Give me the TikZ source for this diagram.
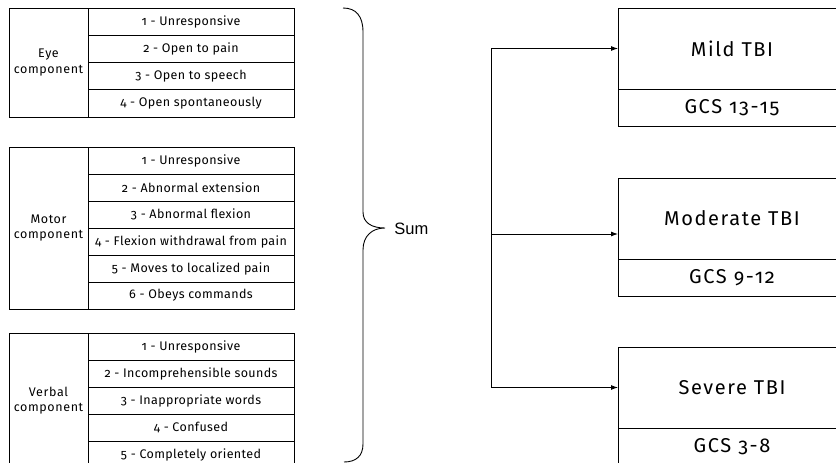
\documentclass[tikz,border=0pt]{standalone}
\usepackage{fontspec}
\setmainfont{Fira Sans}[Numbers=OldStyle]
\newfontfamily\sumfont{Liberation Sans}
\usetikzlibrary{arrows.meta}

% Text styles for the score tables and the severity boxes
\newcommand{\rowtext}{\fontsize{12.5}{14}\selectfont\addfontfeature{LetterSpace=3}}
\newcommand{\labeltext}{\fontsize{12.5}{15.5}\selectfont\addfontfeature{LetterSpace=5}}
\newcommand{\boxtext}{\fontsize{20}{24}\selectfont\addfontfeature{LetterSpace=8}}

\begin{document}
\begin{tikzpicture}[x=1pt, y=-1pt, line width=0.9pt,
  cell/.style={draw, anchor=north west, inner sep=0pt, outer sep=0pt,
    minimum width=206pt, font=\rowtext},
  eyecell/.style={cell, minimum height=27.25pt},
  rowcell/.style={cell, minimum height=27pt},
  labelcell/.style={draw, anchor=north west, inner sep=0pt, outer sep=0pt,
    minimum width=79pt, align=center, font=\labeltext},
  titlebox/.style={draw, anchor=north west, inner sep=0pt, outer sep=0pt,
    minimum width=228pt, minimum height=81pt, font=\boxtext},
  gcsbox/.style={draw, anchor=north west, inner sep=0pt, outer sep=0pt,
    minimum width=228pt, minimum height=37pt, font=\boxtext},
  flow/.style={-{Latex[length=7pt,width=5pt]}}]

\useasboundingbox (0,0) rectangle (836,463);
\clip (0,0) rectangle (836,463);

% Eye component
\node[labelcell, minimum height=109pt] (eye) at (9,8) {Eye\\component};
\node[eyecell] (e1) at (88,8)     {1 - Unresponsive};
\node[eyecell] (e2) at (88,35.25) {2 - Open to pain};
\node[eyecell] (e3) at (88,62.5)  {3 - Open to speech};
\node[eyecell] (e4) at (88,89.75) {4 - Open spontaneously};

% Motor component
\node[labelcell, minimum height=162pt] (motor) at (9,147) {Motor\\component};
\node[rowcell] (m1) at (88,147) {1 - Unresponsive};
\node[rowcell] (m2) at (88,174) {2 - Abnormal extension};
\node[rowcell] (m3) at (88,201) {3 - Abnormal flexion};
\node[rowcell] (m4) at (88,228) {4 - Flexion withdrawal from pain};
\node[rowcell] (m5) at (88,255) {5 - Moves to localized pain};
\node[rowcell] (m6) at (88,282) {6 - Obeys commands};

% Verbal component
\node[labelcell, minimum height=135pt] (verbal) at (9,333) {Verbal\\component};
\node[rowcell] (v1) at (88,333) {1 - Unresponsive};
\node[rowcell] (v2) at (88,360) {2 - Incomprehensible sounds};
\node[rowcell] (v3) at (88,387) {3 - Inappropriate words};
\node[rowcell] (v4) at (88,414) {4 - Confused};
\node[rowcell] (v5) at (88,441) {5 - Completely oriented};

% Curly brace collecting the three scores
\draw (343,8) .. controls (356,8) and (363,16) .. (363,32)
  -- (363,212) .. controls (363,223) and (372,228) .. (385,228)
  .. controls (372,228) and (363,236) .. (363,250)
  -- (363,444) .. controls (363,456) and (356,462) .. (344,462);
\node[anchor=west, inner sep=0pt, font=\sumfont\fontsize{16.5}{18}\selectfont] (sum) at (394,229) {Sum};

% Severity classes
\node[titlebox] (mild) at (618,8) {Mild TBI};
\node[gcsbox] (mildgcs) at (618,89) {GCS 13-15};
\node[titlebox] (moderate) at (618,178) {Moderate TBI};
\node[gcsbox] (modgcs) at (618,259) {GCS 9-12};
\node[titlebox] (severe) at (618,347) {Severe TBI};
\node[gcsbox] (sevgcs) at (618,428) {GCS 3-8};

% Branching connectors
\coordinate (jt) at (491,48.5);
\coordinate (jm) at (491,234);
\coordinate (jb) at (491,387.5);
\draw (jt) -- (jb);
\draw[flow] (jt) -- (mild.west);
\draw[flow] (jm) -- (jm -| moderate.west);
\draw[flow] (jb) -- (severe.west);
\end{tikzpicture}
\end{document}
